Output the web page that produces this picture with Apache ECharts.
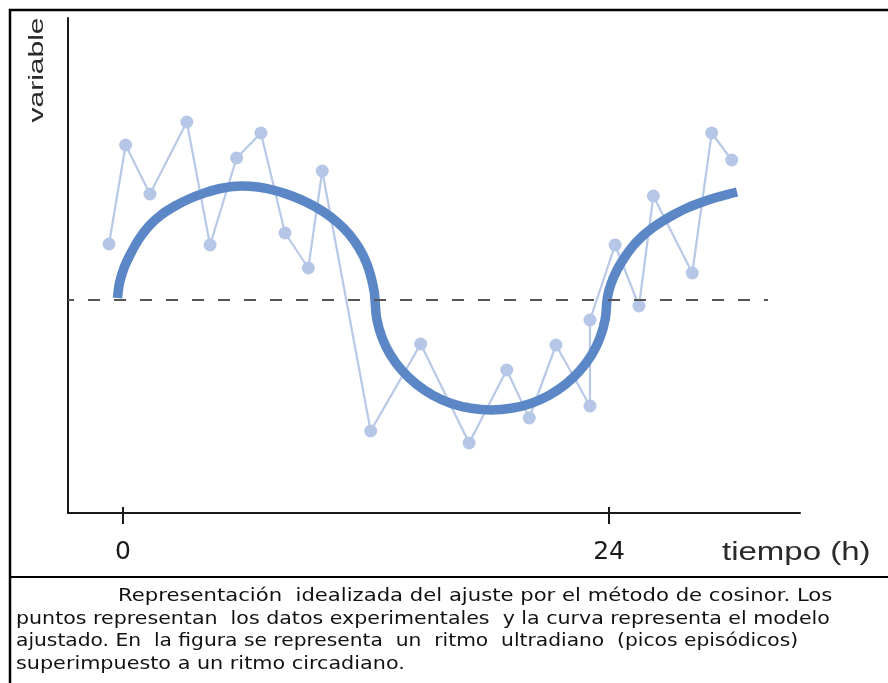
<!DOCTYPE html>
<html>
<head>
<meta charset="utf-8">
<script src="https://cdn.jsdelivr.net/npm/echarts@6/dist/echarts.min.js"></script>
<style>
  html, body { margin: 0; padding: 0; background: #ffffff; }
  #chart { width: 888px; height: 683px; }
</style>
</head>
<body>
<div id="chart"></div>
<script>
// Time (h) and measured variable for the experimental points
const hoursObs = [-0.69, 0.13, 1.33, 3.15, 4.30, 5.61, 6.81, 8.00, 9.15, 9.84, 12.23, 14.70,
                  17.09, 18.95, 20.06, 21.38, 23.06, 23.06, 24.30, 25.48, 26.19, 28.11, 29.07, 30.06];
const valuesObs = [2.8, 7.75, 5.3, 8.9, 2.75, 7.1, 8.35, 3.35, 1.6, 6.45, -6.55, -2.2,
                   -7.15, -3.5, -5.9, -2.25, -5.3, -1.0, 2.75, -0.3, 5.2, 1.35, 8.35, 7.0];

// Fitted (cosinor) model curve
const hoursFit = [
  -0.272, -0.173, 0.049, 0.370, 0.790, 1.284, 1.877, 2.568, 3.309, 4.099, 4.938, 5.827,
  6.667, 7.506, 8.346, 9.136, 9.877, 10.568, 11.160, 11.654, 12.025, 12.272, 12.405, 12.444,
  12.533, 12.790, 13.210, 13.783, 14.489, 15.309, 16.212, 17.180, 18.173, 19.165, 20.133,
  21.037, 21.857, 22.563, 23.136, 23.556, 23.812, 23.901,
  23.990, 24.114, 24.286, 24.519, 24.815, 25.160, 25.580, 26.074, 26.617, 27.210, 27.852,
  28.543, 29.284, 30.025, 30.321
];
const valuesFit = [
  0.1, 0.85, 1.6, 2.3, 3.05, 3.7, 4.25, 4.7, 5.075, 5.375, 5.6, 5.7,
  5.65, 5.475, 5.2, 4.85, 4.425, 3.9, 3.3, 2.6, 1.85, 1.05, 0.4, 0,
  -0.955, -1.88, -2.75, -3.535, -4.215, -4.765, -5.17, -5.415, -5.5, -5.415, -5.17,
  -4.765, -4.215, -3.535, -2.75, -1.88, -0.955, 0,
  0.45, 0.85, 1.275, 1.725, 2.2, 2.675, 3.125, 3.55, 3.925, 4.275, 4.6,
  4.875, 5.125, 5.325, 5.4
];

// Mesor (dashed reference level) and its extent along the time axis
const mesor = 0;
const mesorEnd = 31.85;

// Time axis tick labels
const timeTicks = [0, 24];

// Axis ranges
const X_MIN = -2.716, X_MAX = 33.43;
const Y_MIN = -10.65, Y_MAX = 14.1;

const captionLines = [
  'Representación  idealizada del ajuste por el método de cosinor. Los',
  'puntos representan  los datos experimentales  y la curva representa el modelo',
  'ajustado. En  la figura se representa  un  ritmo  ultradiano  (picos episódicos)',
  'superimpuesto a un ritmo circadiano.'
];

const chart = echarts.init(document.getElementById('chart'), null, { renderer: 'canvas' });

const pairs = (xs, ys) => xs.map((x, i) => [x, ys[i]]);

const captionStyle = { fontFamily: 'DejaVu Sans', fontSize: 17, fill: '#111' };
const captionX = [118, 16, 16, 16];
const captionY = [597, 620, 642, 665];
const captionScale = [1.245, 1.21, 1.19, 1.22];

const option = {
  animation: false,
  backgroundColor: '#ffffff',
  grid: { left: 68, right: 88, top: 18, bottom: 170, containLabel: false },
  xAxis: [
    {
      type: 'value', min: X_MIN, max: X_MAX,
      axisLine: { show: true, onZero: false, lineStyle: { color: '#1a1a1a', width: 2 } },
      axisTick: { show: true, customValues: timeTicks, inside: false, length: 11,
                  lineStyle: { color: '#1a1a1a', width: 2 } },
      axisLabel: { show: true, customValues: timeTicks, margin: 27,
                   fontFamily: 'DejaVu Sans', fontSize: 25, color: '#1a1a1a' },
      splitLine: { show: false }
    },
    {
      type: 'value', min: X_MIN, max: X_MAX, position: 'bottom',
      axisLine: { show: false, onZero: false },
      axisTick: { show: true, customValues: timeTicks, inside: true, length: 6,
                  lineStyle: { color: '#1a1a1a', width: 2 } },
      axisLabel: { show: false },
      splitLine: { show: false }
    }
  ],
  yAxis: {
    type: 'value', min: Y_MIN, max: Y_MAX,
    axisLine: { show: true, onZero: false, lineStyle: { color: '#1a1a1a', width: 2 } },
    axisTick: { show: false },
    axisLabel: { show: false },
    splitLine: { show: false }
  },
  series: [
    {
      name: 'datos',
      type: 'line',
      data: pairs(hoursObs, valuesObs),
      symbol: 'circle',
      symbolSize: 13,
      lineStyle: { color: '#b8c8e7', width: 2.2 },
      itemStyle: { color: '#b6c6e6' },
      z: 2,
      markLine: {
        silent: true,
        symbol: 'none',
        label: { show: false },
        lineStyle: { color: '#555555', width: 2, type: [12, 14], dashOffset: 6 },
        data: [[{ coord: [X_MIN, mesor] }, { coord: [mesorEnd, mesor] }]]
      }
    },
    {
      name: 'modelo',
      type: 'line',
      data: pairs(hoursFit, valuesFit),
      smooth: 0.33,
      symbol: 'none',
      lineStyle: { color: '#5b87c7', width: 9.5, cap: 'butt', join: 'round' },
      z: 3
    }
  ],
  graphic: [
    // figure frame
    { type: 'line', shape: { x1: 10, y1: 9, x2: 10, y2: 683 }, style: { stroke: '#000', lineWidth: 2.5 } },
    { type: 'line', shape: { x1: 9, y1: 10, x2: 888, y2: 10 }, style: { stroke: '#000', lineWidth: 2.5 } },
    { type: 'line', shape: { x1: 10, y1: 577, x2: 888, y2: 577 }, style: { stroke: '#000', lineWidth: 2 } },
    // axis names
    {
      type: 'text', x: 37, y: 70, rotation: Math.PI / 2, scaleX: 1.5,
      style: { text: 'variable', fontFamily: 'Liberation Sans', fontSize: 20, fill: '#2a2a2a',
               align: 'center', verticalAlign: 'middle' }
    },
    {
      type: 'text', x: 722, y: 553, scaleX: 1.32,
      style: { text: 'tiempo (h)', fontFamily: 'Liberation Sans', fontSize: 25, fill: '#2a2a2a',
               align: 'left', verticalAlign: 'middle' }
    }
  ].concat(captionLines.map((t, i) => ({
    type: 'text', x: captionX[i], y: captionY[i], scaleX: captionScale[i],
    style: Object.assign({ text: t, align: 'left', verticalAlign: 'middle' }, captionStyle)
  })))
};

chart.setOption(option);
</script>
</body>
</html>
